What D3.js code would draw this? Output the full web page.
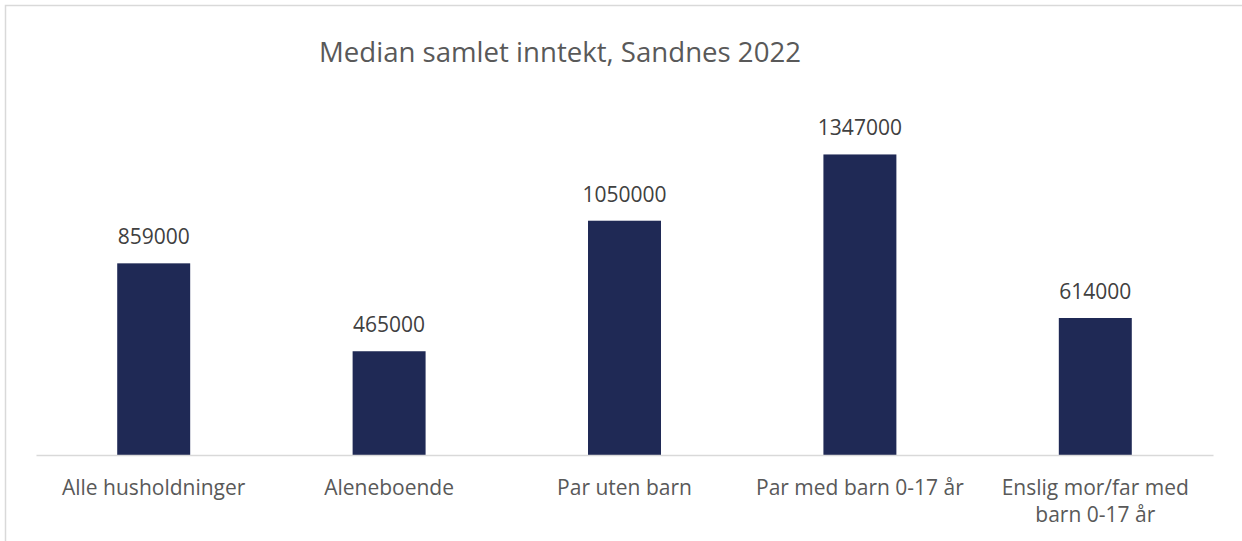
<!DOCTYPE html>
<html lang="no">
<head>
    <meta charset="UTF-8">
    <title>Median samlet inntekt, Sandnes 2022</title>
    <style>
        body {
            margin: 0;
            background: #fff;
        }
        svg text {
            font-family: "Open Sans", sans-serif;
        }
    </style>
</head>
<body>
<script src="https://cdn.jsdelivr.net/npm/d3@7"></script>
<script>

    var categories = [
        ['Alle husholdninger'],
        ['Aleneboende'],
        ['Par uten barn'],
        ['Par med barn 0-17 år'],
        ['Enslig mor/far med', 'barn 0-17 år']
    ];
    var values = [859000, 465000, 1050000, 1347000, 614000];
    var title = 'Median samlet inntekt, Sandnes 2022';

    var width = 1242,
        height = 541;

    var margin = {left: 36, right: 29, top: 98, bottom: 86};

    var svg = d3.select('body').append('svg')
        .attr('width', width)
        .attr('height', height);

    // chart frame (cut off at right and bottom like the source)
    svg.append('rect')
        .attr('x', 5.5)
        .attr('y', 5.5)
        .attr('width', width + 20)
        .attr('height', height + 20)
        .attr('fill', 'none')
        .attr('stroke', '#d9d9d9')
        .attr('stroke-width', 1.5);

    var x = d3.scaleBand()
        .domain(d3.range(values.length))
        .range([margin.left, width - margin.right])
        .paddingInner(0.69)
        .paddingOuter(0.345);

    var y = d3.scaleLinear()
        .domain([0, 1600000])
        .range([height - margin.bottom, margin.top]);

    svg.append('text')
        .attr('x', 560)
        .attr('y', 62)
        .attr('text-anchor', 'middle')
        .attr('font-size', 27.6)
        .attr('fill', '#595959')
        .text(title);

    svg.selectAll('.bar')
        .data(values)
        .enter()
        .append('rect')
        .attr('class', 'bar')
        .attr('x', (d, i) => x(i))
        .attr('y', d => y(d))
        .attr('width', x.bandwidth())
        .attr('height', d => y(0) - y(d))
        .attr('fill', '#1f2955');

    svg.selectAll('.value')
        .data(values)
        .enter()
        .append('text')
        .attr('class', 'value')
        .attr('x', (d, i) => x(i) + x.bandwidth() / 2)
        .attr('y', d => y(d) - 19)
        .attr('text-anchor', 'middle')
        .attr('font-size', 21)
        .attr('fill', '#404040')
        .text(d => d);

    var xAxis = svg.append('g')
        .attr('transform', 'translate(0,' + y(0) + ')')
        .call(d3.axisBottom(x).tickSize(0).tickFormat(''));

    xAxis.select('.domain')
        .attr('stroke', '#d9d9d9')
        .attr('stroke-width', 1.5);

    svg.selectAll('.cat')
        .data(categories)
        .enter()
        .append('text')
        .attr('class', 'cat')
        .attr('x', (d, i) => x(i) + x.bandwidth() / 2)
        .attr('y', y(0) + 40)
        .attr('text-anchor', 'middle')
        .attr('font-size', 21)
        .attr('fill', '#595959')
        .selectAll('tspan')
        .data(d => d)
        .enter()
        .append('tspan')
        .attr('x', function () { return this.parentNode.getAttribute('x'); })
        .attr('dy', (d, i) => i ? 27 : 0)
        .text(d => d);

</script>
</body>
</html>
